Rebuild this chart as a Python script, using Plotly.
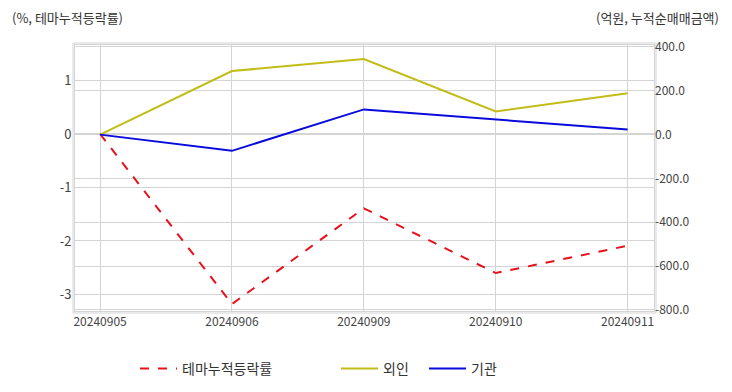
import plotly.graph_objects as go

dates = ["20240905", "20240906", "20240909", "20240910", "20240911"]
theme_rate = [0, -3.18, -1.39, -2.60, -2.09]
foreign = [0, 290, 345, 106, 189]
institution = [0, -74, 115, 69, 23]

left_ticks = [1, 0, -1, -2, -3]
left_labels = ["1", "0", "-1", "-2", "-3"]
right_ticks = [400, 200, 0, -200, -400, -600, -800]
right_labels = ["400.0", "200.0", "0.0", "-200.0", "-400.0", "-600.0", "-800.0"]

FONT = "Noto Sans CJK KR, Noto Sans, sans-serif"
GRID = "#d4d4d4"

fig = go.Figure()
fig.add_trace(go.Scatter(x=dates, y=theme_rate, name="테마누적등락률", mode="lines",
                         line=dict(color="#e8101a", width=2, dash="dash"),
                         yaxis="y", legend="legend"))
fig.add_trace(go.Scatter(x=dates, y=foreign, name="외인", mode="lines",
                         line=dict(color="#c2bc16", width=2),
                         yaxis="y2", legend="legend2"))
fig.add_trace(go.Scatter(x=dates, y=institution, name="기관", mode="lines",
                         line=dict(color="#0a0adc", width=2),
                         yaxis="y2", legend="legend2"))

OFF = 8  # page body margin
W, H = 716, 376
L, T = 75 - OFF, 45 - OFF
R = W - (654 - OFF)
B = H - (311 - OFF)
pw, ph = W - L - R, H - T - B


def xp(px):
    return (px - OFF - L) / pw


def yp(py):
    return 1 - (py - OFF - T) / ph


fig.update_layout(
    width=W, height=H,
    margin=dict(l=L, r=R, t=T, b=B, autoexpand=False),
    paper_bgcolor="white", plot_bgcolor="white",
    font=dict(family=FONT, size=12, color="#444"),
    xaxis=dict(type="category", range=[-0.19, 4.2], showgrid=True, gridcolor=GRID,
               gridwidth=1, showline=True, linecolor=GRID, mirror=True, automargin=False,
               ticks="", tickfont=dict(size=12, color="#444"), zeroline=False),
    yaxis=dict(range=[-3.31, 1.664], tickvals=left_ticks, ticktext=left_labels, showgrid=True,
               gridcolor=GRID, gridwidth=1, zeroline=False, showline=True, automargin=False,
               linecolor=GRID, mirror=True, ticks="", tickfont=dict(size=13, color="#444")),
    yaxis2=dict(range=[-805, 409], tickvals=right_ticks, ticktext=right_labels,
                overlaying="y", side="right", showgrid=True, gridcolor=GRID, automargin=False,
                gridwidth=1, zeroline=False, ticks="", tickfont=dict(size=12, color="#444")),
    legend=dict(orientation="h", x=xp(135), xanchor="left", y=yp(369), itemwidth=37,
                yanchor="middle", font=dict(size=14, color="#333"), bgcolor="rgba(0,0,0,0)"),
    legend2=dict(orientation="h", x=xp(336), xanchor="left", y=yp(369), itemwidth=37,
                 entrywidth=36, entrywidthmode="pixels",
                 yanchor="middle", font=dict(size=14, color="#333"), bgcolor="rgba(0,0,0,0)"),
    showlegend=True,
)

# outer frame (double border look)
fig.add_shape(type="rect", xref="paper", yref="paper",
              x0=-2 / pw, x1=1 + 2 / pw, y0=-2 / ph, y1=1 + 2 / ph,
              line=dict(color=GRID, width=1), fillcolor="rgba(0,0,0,0)", layer="below")

fig.add_annotation(text="(%, 테마누적등락률)", xref="paper", yref="paper",
                   x=xp(10), y=yp(17), xanchor="left", yanchor="middle",
                   showarrow=False, font=dict(size=13, color="#333"))
fig.add_annotation(text="(억원, 누적순매매금액)", xref="paper", yref="paper",
                   x=xp(721), y=yp(17), xanchor="right", yanchor="middle",
                   showarrow=False, font=dict(size=13, color="#333"))

fig.write_html("out.html")
